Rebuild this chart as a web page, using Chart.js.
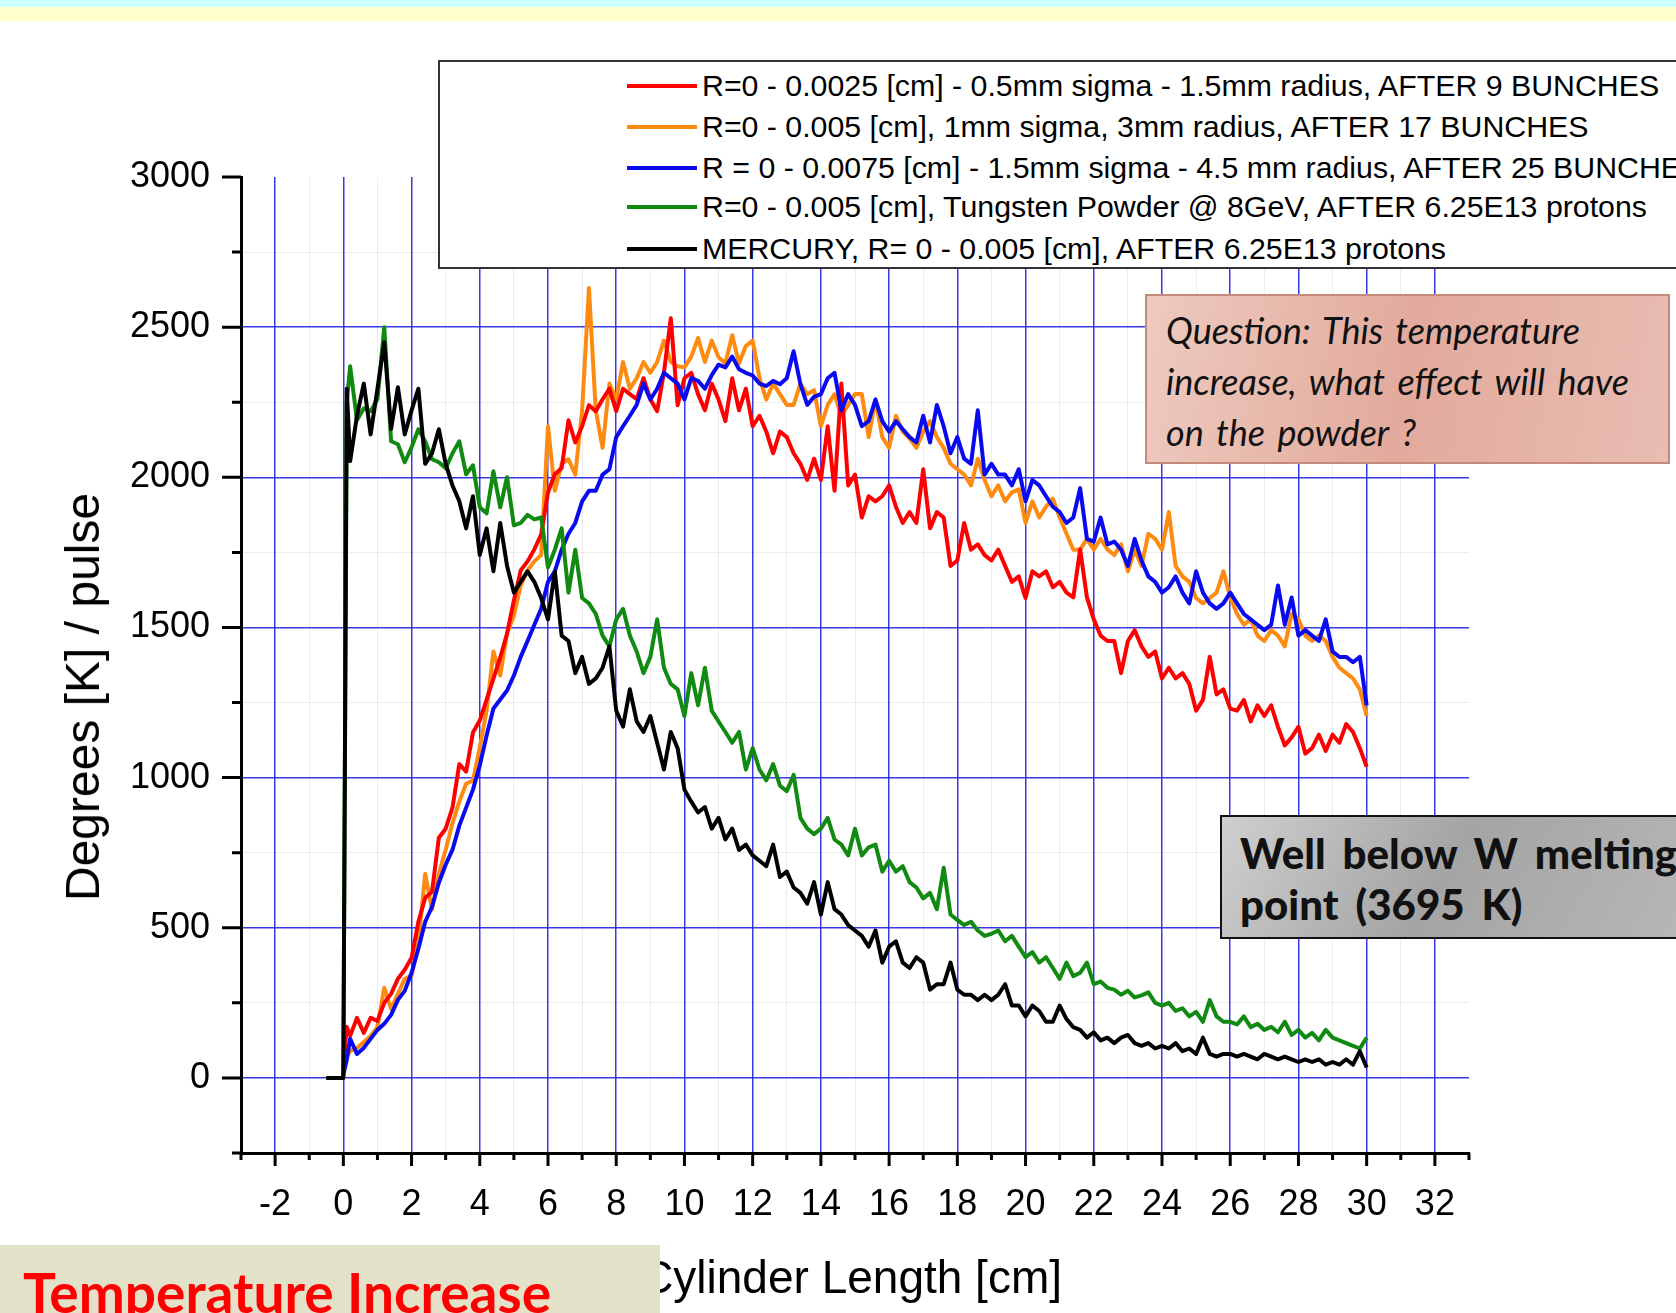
<!DOCTYPE html>
<html lang="en">
<head>
    <meta charset="UTF-8">
    <title>Temperature Increase</title>
    <script src="https://cdn.jsdelivr.net/npm/chart.js"></script>
    <style>
        body {
            margin: 0;
            width: 1676px;
            height: 1313px;
            position: relative;
            overflow: hidden;
            background: #fff;
            font-family: 'Liberation Sans', Arial, sans-serif;
        }

        .band-cyan { position: absolute; left: 0; top: 0; width: 1676px; height: 7px; background: #ccffff; }
        .band-yellow { position: absolute; left: 0; top: 7px; width: 1676px; height: 14px; background: #ffffcc; }

        #chart { position: absolute; left: 0; top: 0; }

        .legend {
            position: absolute;
            left: 438px;
            top: 60px;
            width: 1300px;
            height: 205px;
            border: 2px solid #333;
            background: #fff;
        }
        .legend .item { position: absolute; left: 0; height: 36px; }
        .legend .swatch { position: absolute; left: 187px; top: 16px; width: 70px; height: 4px; }
        .legend .label { position: absolute; left: 262px; top: 0; font-size: 30.3px; line-height: 36px; white-space: nowrap; color: #000; }

        .y-title, .x-title {
            position: absolute;
            font-size: 46px;
            line-height: 46px;
            white-space: nowrap;
            color: #000;
        }
        .y-title { left: 83px; top: 697px; font-size: 48px; transform: translate(-50%, -50%) rotate(-90deg); }
        .x-title { right: 614px; top: 1254px; }

        .question {
            position: absolute;
            left: 1145px;
            top: 294px;
            width: 525px;
            height: 170px;
            border: 2px solid #c48a7c;
            background: linear-gradient(100deg, #eecabf 0%, #e2aa9c 50%, #e9bdb2 100%);
            font-family: Lato, 'Open Sans', sans-serif;
            font-style: italic;
            font-size: 36px;
            line-height: 51px;
            word-spacing: 4px;
            color: #111;
            padding: 9px 0 0 19px;
            box-sizing: border-box;
        }

        .melting {
            position: absolute;
            left: 1220px;
            top: 815px;
            width: 500px;
            height: 124px;
            border: 2px solid #111;
            background: linear-gradient(120deg, #cfcfcf 0%, #a4a4a4 45%, #b9b9b9 100%);
            font-family: Lato, 'Open Sans', sans-serif;
            font-weight: 900;
            font-size: 42px;
            line-height: 51px;
            word-spacing: 7px;
            color: #111;
            padding: 11px 0 0 18px;
            box-sizing: border-box;
            white-space: nowrap;
        }

        .banner {
            position: absolute;
            left: 0;
            top: 1245px;
            width: 660px;
            height: 68px;
            background: #e3e1c8;
            overflow: hidden;
        }
        .banner span {
            position: absolute;
            left: 23px;
            top: 19px;
            font-family: Lato, 'Open Sans', sans-serif;
            font-weight: bold;
            font-size: 55px;
            line-height: 56px;
            color: #ff0000;
            white-space: nowrap;
        }
    </style>
</head>
<body>

<div class="band-cyan"></div>
<div class="band-yellow"></div>

<canvas id="chart" width="1676" height="1313"></canvas>

<div class="legend" id="legend"></div>

<div class="question">Question: This temperature<br>increase, what effect will have<br>on the powder ?</div>
<div class="melting">Well below W melting<br>point (3695 K)</div>

<div class="y-title">Degrees [K] / pulse</div>
<div class="x-title">Cylinder Length [cm]</div>
<div class="banner"><span>Temperature Increase</span></div>

<script>
    // position along the cylinder, cm
    var lengthCm = [-0.5, 0, 0.1,
        0.2, 0.4, 0.6, 0.8, 1.0, 1.2, 1.4, 1.6, 1.8, 2.0, 2.2, 2.4, 2.6, 2.8, 3.0, 3.2, 3.4, 3.6, 3.8, 4.0,
        4.2, 4.4, 4.6, 4.8, 5.0, 5.2, 5.4, 5.6, 5.8, 6.0, 6.2, 6.4, 6.6, 6.8, 7.0, 7.2, 7.4, 7.6, 7.8, 8.0,
        8.2, 8.4, 8.6, 8.8, 9.0, 9.2, 9.4, 9.6, 9.8, 10.0, 10.2, 10.4, 10.6, 10.8, 11.0, 11.2, 11.4, 11.6, 11.8, 12.0,
        12.2, 12.4, 12.6, 12.8, 13.0, 13.2, 13.4, 13.6, 13.8, 14.0, 14.2, 14.4, 14.6, 14.8, 15.0, 15.2, 15.4, 15.6, 15.8, 16.0,
        16.2, 16.4, 16.6, 16.8, 17.0, 17.2, 17.4, 17.6, 17.8, 18.0, 18.2, 18.4, 18.6, 18.8, 19.0, 19.2, 19.4, 19.6, 19.8, 20.0,
        20.2, 20.4, 20.6, 20.8, 21.0, 21.2, 21.4, 21.6, 21.8, 22.0, 22.2, 22.4, 22.6, 22.8, 23.0, 23.2, 23.4, 23.6, 23.8, 24.0,
        24.2, 24.4, 24.6, 24.8, 25.0, 25.2, 25.4, 25.6, 25.8, 26.0, 26.2, 26.4, 26.6, 26.8, 27.0, 27.2, 27.4, 27.6, 27.8, 28.0,
        28.2, 28.4, 28.6, 28.8, 29.0, 29.2, 29.4, 29.6, 29.8, 30.0];

    // R=0 - 0.0025 cm, 9 bunches
    var red9Bunches = [null, 30, 170,
        140, 200, 150, 200, 190, 250, 280, 330, 360, 400,
        520, 600, 620, 800, 830, 900, 1045, 1020, 1150, 1190,
        1260, 1330, 1400, 1480, 1590, 1690, 1720, 1760, 1810, 1950,
        2010, 2030, 2190, 2116, 2170, 2240, 2220, 2260, 2295, 2220,
        2295, 2277, 2260, 2330, 2260, 2220, 2350, 2530, 2240, 2330,
        2348, 2277, 2223, 2312, 2259, 2187, 2330, 2223, 2295, 2170,
        2205, 2152, 2080, 2152, 2134, 2080, 2045, 1991, 2062, 1991,
        2170, 1955, 2312, 1973, 2009, 1866, 1937, 1920, 1937, 1973,
        1902, 1848, 1884, 1848, 2027, 1830, 1884, 1866, 1705, 1723,
        1848, 1759, 1777, 1741, 1723, 1759, 1705, 1652, 1670, 1598,
        1687, 1670, 1687, 1634, 1652, 1616, 1600, 1760, 1600, 1527,
        1473, 1455, 1455, 1348, 1455, 1491, 1437, 1402, 1420, 1330,
        1366, 1330, 1348, 1312, 1223, 1259, 1402, 1277, 1294, 1230,
        1223, 1259, 1187, 1241, 1205, 1241, 1169, 1107, 1134, 1169,
        1080, 1098, 1143, 1089, 1143, 1116, 1178, 1152, 1098, 1036];

    // R=0 - 0.005 cm, 17 bunches
    var orange17Bunches = [null, 20, 70,
        90, 100, 120, 140, 170, 300, 230, 280, 330, 340,
        450, 680, 560, 680, 760, 848, 920, 980, 990, 1100,
        1223, 1420, 1340, 1480, 1540, 1640, 1690, 1720, 1741, 2170,
        1955, 2045, 2060, 2009, 2223, 2630, 2223, 2098, 2312, 2259,
        2384, 2295, 2330, 2384, 2348, 2384, 2455, 2384, 2370, 2366,
        2402, 2464, 2384, 2455, 2400, 2380, 2473, 2380, 2437, 2455,
        2330, 2259, 2312, 2277, 2241, 2241, 2312, 2277, 2290, 2170,
        2241, 2277, 2205, 2241, 2277, 2277, 2134, 2259, 2134, 2098,
        2205, 2152, 2130, 2098, 2152, 2187, 2134, 2098, 2045, 2027,
        2009, 1973, 2062, 1991, 1937, 1973, 1920, 1950, 1960, 1848,
        1920, 1866, 1902, 1929, 1866, 1812, 1759, 1759, 1795, 1759,
        1795, 1760, 1741, 1777, 1687, 1759, 1705, 1812, 1795, 1759,
        1884, 1705, 1670, 1652, 1598, 1580, 1598, 1616, 1687, 1600,
        1545, 1509, 1527, 1473, 1455, 1491, 1473, 1437, 1545, 1527,
        1473, 1455, 1473, 1455, 1402, 1366, 1348, 1330, 1294, 1205];

    // R=0 - 0.0075 cm, 25 bunches
    var blue25Bunches = [null, 10, 60,
        130, 80, 100, 130, 160, 180, 210, 260, 290, 350,
        430, 520, 570, 650, 710, 760, 840, 900, 960, 1040,
        1140, 1230, 1260, 1290, 1340, 1402, 1455, 1509, 1562, 1652,
        1687, 1759, 1812, 1848, 1920, 1955, 1955, 2009, 2027, 2134,
        2170, 2205, 2241, 2312, 2259, 2295, 2348, 2330, 2312, 2259,
        2330, 2321, 2295, 2340, 2375, 2366, 2402, 2360, 2348, 2339,
        2312, 2304, 2321, 2310, 2330, 2420, 2310, 2241, 2268, 2277,
        2330, 2348, 2223, 2277, 2241, 2170, 2187, 2259, 2187, 2152,
        2187, 2160, 2134, 2116, 2205, 2116, 2241, 2170, 2080, 2134,
        2062, 2045, 2223, 2009, 2045, 2009, 2009, 1973, 2027, 1920,
        1991, 1973, 1937, 1902, 1884, 1848, 1866, 1964, 1795, 1786,
        1866, 1777, 1786, 1759, 1705, 1795, 1723, 1670, 1652, 1616,
        1634, 1670, 1616, 1580, 1687, 1616, 1580, 1562, 1580, 1616,
        1580, 1545, 1527, 1509, 1491, 1509, 1640, 1509, 1600, 1473,
        1491, 1473, 1455, 1527, 1420, 1402, 1402, 1384, 1402, 1241];

    // tungsten powder @ 8GeV
    var greenTungsten = [0, 0, 2250,
        2370, 2190, 2230, 2220, 2260, 2500, 2120, 2110, 2050, 2100,
        2160, 2120, 2060, 2050, 2030, 2080, 2120, 2010, 2040, 1900,
        1880, 2020, 1900, 2000, 1840, 1848, 1875, 1860, 1866, 1700,
        1759, 1830, 1616, 1759, 1598, 1580, 1545, 1473, 1437, 1527,
        1562, 1473, 1420, 1348, 1402, 1527, 1366, 1312, 1294, 1205,
        1348, 1241, 1366, 1223, 1187, 1152, 1116, 1152, 1027, 1098,
        1027, 991, 1045, 973, 955, 1009, 866, 830, 812, 830,
        866, 794, 777, 741, 830, 741, 768, 777, 687, 723,
        687, 705, 652, 634, 598, 616, 562, 700, 544, 526,
        509, 520, 491, 473, 480, 491, 455, 473, 437, 402,
        419, 384, 402, 366, 330, 384, 339, 350, 384, 312,
        321, 300, 294, 277, 290, 268, 275, 285, 250, 241,
        250, 223, 232, 205, 220, 187, 259, 205, 187, 187,
        178, 205, 169, 180, 160, 170, 152, 187, 143, 160,
        134, 150, 125, 160, 134, 125, 116, 107, 98, 134];

    // mercury
    var blackMercury = [0, 0, 2295,
        2054, 2205, 2312, 2143, 2295, 2450, 2161, 2300, 2143, 2223,
        2295, 2045, 2080, 2160, 2045, 1973, 1920, 1830, 1937, 1741,
        1830, 1687, 1848, 1705, 1616, 1652, 1687, 1652, 1598, 1527,
        1687, 1473, 1455, 1348, 1402, 1312, 1330, 1366, 1437, 1223,
        1170, 1294, 1187, 1152, 1205, 1116, 1027, 1152, 1098, 960,
        920, 884, 902, 830, 866, 794, 830, 759, 777, 741,
        723, 705, 777, 669, 687, 634, 616, 580, 652, 544,
        652, 562, 544, 509, 491, 473, 437, 491, 384, 437,
        455, 384, 366, 402, 384, 294, 312, 312, 384, 294,
        277, 277, 259, 277, 259, 277, 312, 241, 241, 205,
        241, 223, 187, 187, 241, 196, 169, 160, 134, 152,
        125, 134, 116, 134, 143, 116, 107, 116, 98, 107,
        98, 116, 89, 98, 80, 134, 80, 71, 80, 80,
        71, 80, 71, 62, 80, 71, 62, 71, 62, 53,
        62, 53, 62, 44, 53, 44, 62, 44, 89, 35];

    var xTicks = [-3, -2, -1, 0, 1, 2, 3, 4, 5, 6, 7, 8, 9, 10, 11, 12, 13, 14, 15, 16, 17, 18,
        19, 20, 21, 22, 23, 24, 25, 26, 27, 28, 29, 30, 31, 32, 33];
    var yTicks = [-250, 0, 250, 500, 750, 1000, 1250, 1500, 1750, 2000, 2250, 2500, 2750, 3000];

    var legendLabels = [
        'R=0 - 0.0025 [cm] - 0.5mm sigma - 1.5mm radius, AFTER 9 BUNCHES',
        'R=0 - 0.005 [cm], 1mm sigma, 3mm radius, AFTER 17 BUNCHES',
        'R = 0 - 0.0075 [cm] - 1.5mm sigma - 4.5 mm radius, AFTER 25 BUNCHES',
        'R=0 - 0.005 [cm], Tungsten Powder @ 8GeV, AFTER 6.25E13 protons',
        'MERCURY, R= 0 - 0.005 [cm], AFTER 6.25E13 protons'
    ];
    var legendColors = ['#ff0000', '#ff8a10', '#0a0af0', '#118a11', '#000000'];

    var gridBlue = 'rgba(35, 35, 225, 0.9)';
    var gridMinor = 'rgba(0, 0, 0, 0.07)';

    function points(values) {
        return lengthCm.map(function (x, i) { return { x: x, y: values[i] }; });
    }

    // legend box (html, the box runs off the right edge)
    var legend = document.getElementById('legend');
    var rowTop = [6, 47, 88, 127, 169];
    legendLabels.forEach(function (text, i) {
        var item = document.createElement('div');
        item.className = 'item';
        item.style.top = rowTop[i] + 'px';
        item.innerHTML = '<div class="swatch" style="background:' + legendColors[i] + '"></div>' +
            '<div class="label">' + text + '</div>';
        legend.appendChild(item);
    });

    // major and minor tick marks outside the plot
    var tickMarks = {
        id: 'tickMarks',
        afterDraw: function (chart) {
            var ctx = chart.ctx;
            var xs = chart.scales.x, ys = chart.scales.y;
            ctx.save();
            ctx.strokeStyle = '#000';
            ctx.lineWidth = 3;
            ctx.beginPath();
            ys.ticks.forEach(function (t) {
                var py = ys.getPixelForValue(t.value);
                var len = t.value % 500 === 0 ? 19 : 9;
                ctx.moveTo(ys.right - len, py);
                ctx.lineTo(ys.right, py);
            });
            xs.ticks.forEach(function (t) {
                var px = xs.getPixelForValue(t.value);
                var len = t.value % 2 === 0 ? 13 : 7;
                ctx.moveTo(px, xs.top);
                ctx.lineTo(px, xs.top + len);
            });
            ctx.stroke();
            ctx.restore();
        }
    };

    var tickFont = { family: "'Liberation Sans', Arial, sans-serif", size: 36 };

    var chart = new Chart(document.getElementById('chart').getContext('2d'), {
        type: 'line',
        data: {
            datasets: [
                { label: legendLabels[4], data: points(blackMercury), borderColor: legendColors[4] },
                { label: legendLabels[3], data: points(greenTungsten), borderColor: legendColors[3] },
                { label: legendLabels[2], data: points(blue25Bunches), borderColor: legendColors[2] },
                { label: legendLabels[0], data: points(red9Bunches), borderColor: legendColors[0] },
                { label: legendLabels[1], data: points(orange17Bunches), borderColor: legendColors[1] }
            ]
        },
        options: {
            responsive: false,
            animation: false,
            events: [],
            layout: { padding: { left: 0, top: 177, right: 207, bottom: 0 } },
            elements: {
                point: { radius: 0 },
                line: { borderWidth: 4, tension: 0, fill: false, borderJoinStyle: 'round' }
            },
            plugins: {
                legend: { display: false },
                tooltip: { enabled: false }
            },
            scales: {
                x: {
                    type: 'linear',
                    min: -3,
                    max: 33,
                    afterBuildTicks: function (scale) {
                        scale.ticks = xTicks.map(function (v) { return { value: v }; });
                    },
                    afterFit: function (scale) { scale.height = 160; },
                    ticks: {
                        autoSkip: false,
                        maxRotation: 0,
                        padding: 30,
                        color: '#000',
                        font: tickFont,
                        callback: function (v) { return (v % 2 === 0) ? String(v) : ''; }
                    },
                    grid: {
                        drawTicks: false,
                        color: function (c) {
                            var v = c.tick.value;
                            if (v <= -3 || v >= 33) return 'rgba(0,0,0,0)';
                            return v % 2 === 0 ? gridBlue : gridMinor;
                        },
                        lineWidth: function (c) { return c.tick.value % 2 === 0 ? 1.5 : 1; }
                    },
                    border: { color: '#000', width: 3 }
                },
                y: {
                    min: -250,
                    max: 3000,
                    afterBuildTicks: function (scale) {
                        scale.ticks = yTicks.map(function (v) { return { value: v }; });
                    },
                    afterFit: function (scale) { scale.width = 241; },
                    ticks: {
                        padding: 31,
                        color: '#000',
                        font: tickFont,
                        callback: function (v) { return (v % 500 === 0) ? String(v) : ''; }
                    },
                    grid: {
                        drawTicks: false,
                        color: function (c) {
                            var v = c.tick.value;
                            if (v <= -250 || v >= 3000) return 'rgba(0,0,0,0)';
                            return v % 500 === 0 ? gridBlue : gridMinor;
                        },
                        lineWidth: function (c) { return c.tick.value % 500 === 0 ? 1.5 : 1; }
                    },
                    border: { color: '#000', width: 3 }
                }
            }
        },
        plugins: [tickMarks]
    });
</script>
</body>
</html>
